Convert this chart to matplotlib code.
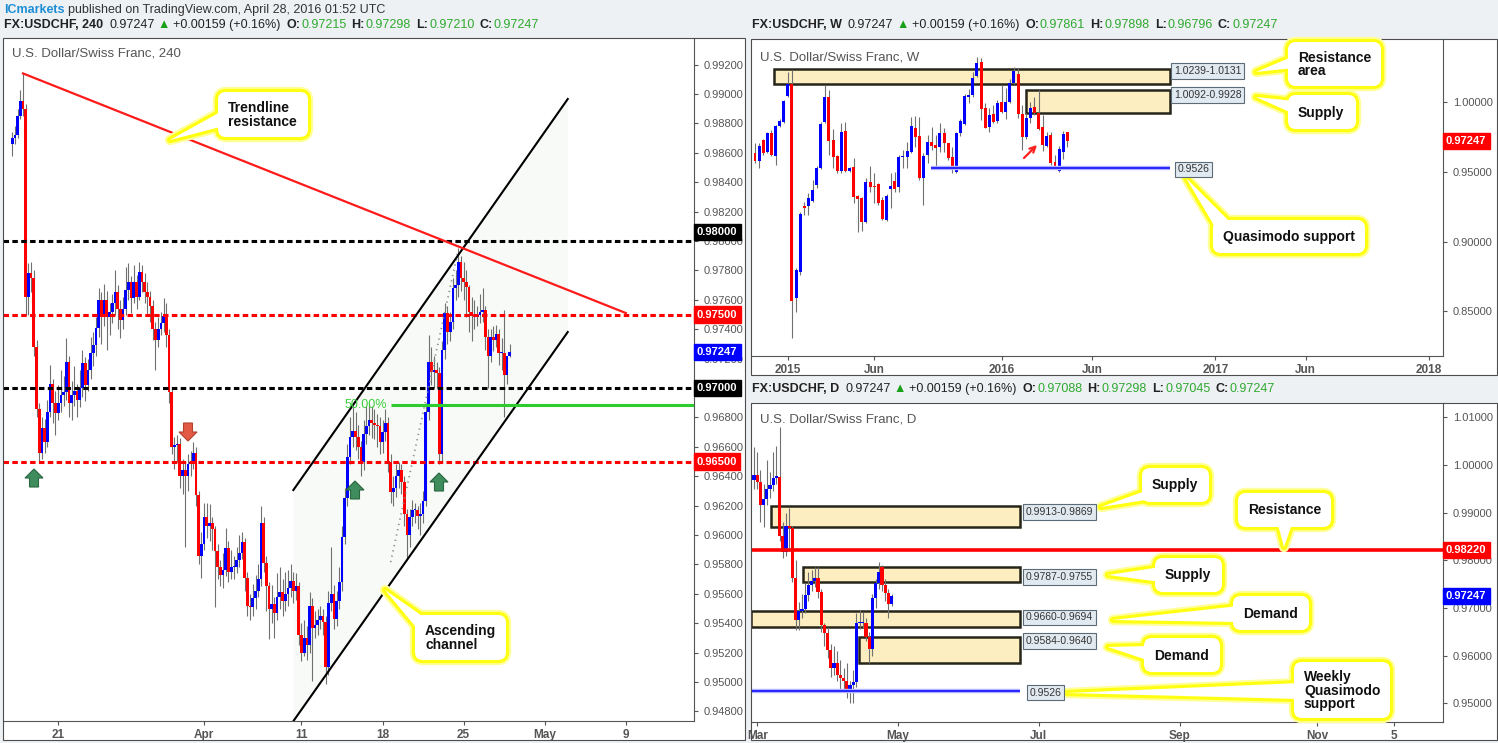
import numpy as np
import matplotlib
matplotlib.use('Agg')
import matplotlib.pyplot as plt
from matplotlib.patches import Rectangle, FancyBboxPatch, Polygon

plt.rcParams['font.family'] = ['Liberation Sans', 'DejaVu Sans']

W, H = 1498, 743

# ---------------- 4h candles (USDCHF, from Mar 17 2016) ----------------
h4_first_open = 0.9866
h4_close = [
    0.9870, 0.9872, 0.9885, 0.9895, 0.9890, 0.9762, 0.9778, 0.9775, 0.9728, 0.9686,
    0.9656, 0.9673, 0.9663, 0.9684, 0.9703, 0.9690, 0.9683, 0.9690, 0.9695, 0.9697,
    0.9718, 0.9690, 0.9695, 0.9698, 0.9692, 0.9700, 0.9717, 0.9702, 0.9712, 0.9724,
    0.9729, 0.9741, 0.9760, 0.9748, 0.9760, 0.9748, 0.9752, 0.9758, 0.9765, 0.9754,
    0.9746, 0.9754, 0.9767, 0.9772, 0.9761, 0.9772, 0.9762, 0.9779, 0.9772, 0.9765,
    0.9762, 0.9756, 0.9740, 0.9733, 0.9740, 0.9744, 0.9749, 0.9736, 0.9697, 0.9660,
    0.9661, 0.9662, 0.9640, 0.9644, 0.9640, 0.9648, 0.9650, 0.9656, 0.9627, 0.9586,
    0.9594, 0.9612, 0.9606, 0.9608, 0.9604, 0.9589, 0.9578, 0.9573, 0.9576, 0.9591,
    0.9575, 0.9578, 0.9578, 0.9583, 0.9588, 0.9595, 0.9571, 0.9552, 0.9551, 0.9557,
    0.9562, 0.9570, 0.9608, 0.9581, 0.9565, 0.9550, 0.9553, 0.9547, 0.9558, 0.9561,
    0.9555, 0.9560, 0.9564, 0.9569, 0.9562, 0.9565, 0.9532, 0.9520, 0.9530, 0.9525,
    0.9552, 0.9537, 0.9539, 0.9542, 0.9545, 0.9541, 0.9510, 0.9554, 0.9560, 0.9543,
    0.9555, 0.9568, 0.9599, 0.9625, 0.9653, 0.9667, 0.9671, 0.9667, 0.9660, 0.9650,
    0.9669, 0.9674, 0.9678, 0.9676, 0.9675, 0.9674, 0.9663, 0.9670, 0.9676, 0.9650,
    0.9629, 0.9632, 0.9640, 0.9644, 0.9636, 0.9614, 0.9600, 0.9612, 0.9617, 0.9617,
    0.9613, 0.9614, 0.9623, 0.9684, 0.9718, 0.9711, 0.9712, 0.9710, 0.9655, 0.9726,
    0.9751, 0.9738, 0.9745, 0.9768, 0.9770, 0.9786, 0.9775, 0.9772, 0.9769, 0.9752,
    0.9749, 0.9748, 0.9750, 0.9752, 0.9753, 0.9735, 0.9722, 0.9735, 0.9733, 0.9737,
    0.9724, 0.9724, 0.9709, 0.97215, 0.97247,
]
h4_high = [
    0.9874, 0.9878, 0.9890, 0.9903, 0.9914, 0.9893, 0.9785, 0.9786, 0.9780, 0.9733,
    0.9690, 0.9680, 0.9679, 0.9692, 0.9716, 0.9706, 0.9698, 0.9702, 0.9712, 0.9708,
    0.9734, 0.9722, 0.9705, 0.9715, 0.9703, 0.9712, 0.9726, 0.9721, 0.9720, 0.9735,
    0.9738, 0.9748, 0.9768, 0.9765, 0.9771, 0.9766, 0.9758, 0.9764, 0.9780, 0.9770,
    0.9760, 0.9762, 0.9782, 0.9785, 0.9776, 0.9784, 0.9777, 0.9786, 0.9784, 0.9778,
    0.9772, 0.9766, 0.9760, 0.9745, 0.9748, 0.9752, 0.9761, 0.9758, 0.9740, 0.9700,
    0.9667, 0.9668, 0.9666, 0.9652, 0.9650, 0.9655, 0.9657, 0.9663, 0.9660, 0.9630,
    0.9602, 0.9622, 0.9622, 0.9621, 0.9612, 0.9606, 0.9594, 0.9583, 0.9588, 0.9605,
    0.9596, 0.9590, 0.9586, 0.9592, 0.9600, 0.9602, 0.9598, 0.9575, 0.9560, 0.9567,
    0.9573, 0.9580, 0.9620, 0.9612, 0.9586, 0.9568, 0.9566, 0.9558, 0.9574, 0.9578,
    0.9570, 0.9575, 0.9576, 0.9580, 0.9575, 0.9574, 0.9568, 0.9540, 0.9542, 0.9538,
    0.9561, 0.9557, 0.9548, 0.9550, 0.9552, 0.9550, 0.9545, 0.9562, 0.9592, 0.9566,
    0.9562, 0.9578, 0.9606, 0.9632, 0.9662, 0.9680, 0.9688, 0.9684, 0.9675, 0.9664,
    0.9678, 0.9688, 0.9690, 0.9688, 0.9686, 0.9682, 0.9680, 0.9678, 0.9686, 0.9680,
    0.9655, 0.9640, 0.9648, 0.9650, 0.9648, 0.9640, 0.9618, 0.9618, 0.9624, 0.9622,
    0.9620, 0.9622, 0.9630, 0.9690, 0.9736, 0.9728, 0.9722, 0.9718, 0.9714, 0.9732,
    0.9758, 0.9756, 0.9752, 0.9775, 0.9780, 0.9795, 0.9790, 0.9786, 0.9780, 0.9770,
    0.9762, 0.9760, 0.9756, 0.9764, 0.9768, 0.9756, 0.9740, 0.9740, 0.9742, 0.9743,
    0.9740, 0.9734, 0.9753, 0.9722, 0.97298,
]
h4_low = [
    0.9858, 0.9866, 0.9870, 0.9883, 0.9885, 0.9750, 0.9750, 0.9765, 0.9722, 0.9680,
    0.9650, 0.9652, 0.9656, 0.9660, 0.9680, 0.9676, 0.9668, 0.9678, 0.9684, 0.9688,
    0.9692, 0.9680, 0.9678, 0.9688, 0.9680, 0.9687, 0.9694, 0.9691, 0.9698, 0.9706,
    0.9715, 0.9722, 0.9735, 0.9730, 0.9742, 0.9726, 0.9736, 0.9744, 0.9750, 0.9740,
    0.9734, 0.9740, 0.9750, 0.9760, 0.9751, 0.9758, 0.9754, 0.9760, 0.9765, 0.9758,
    0.9750, 0.9745, 0.9733, 0.9712, 0.9728, 0.9736, 0.9738, 0.9728, 0.9690, 0.9655,
    0.9645, 0.9650, 0.9632, 0.9628, 0.9592, 0.9630, 0.9640, 0.9645, 0.9620, 0.9580,
    0.9571, 0.9590, 0.9598, 0.9596, 0.9590, 0.9551, 0.9570, 0.9565, 0.9564, 0.9572,
    0.9568, 0.9570, 0.9570, 0.9574, 0.9578, 0.9584, 0.9562, 0.9545, 0.9542, 0.9545,
    0.9550, 0.9558, 0.9565, 0.9575, 0.9548, 0.9529, 0.9540, 0.9530, 0.9542, 0.9550,
    0.9545, 0.9548, 0.9552, 0.9558, 0.9554, 0.9556, 0.9525, 0.9514, 0.9518, 0.9515,
    0.9520, 0.9501, 0.9530, 0.9532, 0.9536, 0.9532, 0.9499, 0.9505, 0.9548, 0.9536,
    0.9538, 0.9550, 0.9562, 0.9594, 0.9620, 0.9648, 0.9660, 0.9658, 0.9652, 0.9640,
    0.9644, 0.9662, 0.9668, 0.9666, 0.9665, 0.9660, 0.9655, 0.9656, 0.9664, 0.9643,
    0.9622, 0.9620, 0.9626, 0.9632, 0.9628, 0.9606, 0.9584, 0.9592, 0.9606, 0.9608,
    0.9604, 0.9600, 0.9608, 0.9620, 0.9678, 0.9702, 0.9700, 0.9700, 0.9648, 0.9650,
    0.9720, 0.9730, 0.9732, 0.9740, 0.9760, 0.9762, 0.9766, 0.9760, 0.9748, 0.9738,
    0.9732, 0.9740, 0.9742, 0.9744, 0.9745, 0.9726, 0.9700, 0.9718, 0.9725, 0.9728,
    0.9716, 0.9712, 0.9680, 0.9703, 0.9721,
]
h4_first_bar = -17                      # bars relative to Mar 21 00:00 (6 bars a day)
h4_tick_labels = ['21', 'Apr', '11', '18', '25', 'May', '9']
h4_tick_days = [0, 9, 15, 20, 25, 30, 35]
h4_levels_black = [0.9800, 0.9700]
h4_levels_red = [0.9750, 0.9650]
h4_fib_low, h4_fib_high = 0.95816, 0.97939
h4_fib_mid = 0.96884

# ---------------- weekly candles (from week of Nov 10 2014) ----------------
w_open = [
    0.9639, 0.9582, 0.9731, 0.9647, 0.9779, 0.9615, 0.9831, 0.9862, 1.0047, 1.0133,
    0.8591, 0.8783, 0.9258, 0.9258, 0.9292, 0.9407, 0.9532, 0.9862, 1.0042, 0.9731,
    0.9615, 0.9508, 0.9798, 0.9505, 0.9536, 0.9328, 0.9316, 0.9143, 0.9428, 0.9402,
    0.9414, 0.9299, 0.9155, 0.9376, 0.9436, 0.9395, 0.9611, 0.9611, 0.9647, 0.9814,
    0.9759, 0.9455, 0.9623, 0.9714, 0.9695, 0.9683, 0.9779, 0.9707, 0.9611, 0.9503,
    0.9783, 0.9846, 1.0042, 1.0054, 1.0191, 1.0294, 0.9963, 0.9822, 0.9918, 0.9867,
    1.0004, 0.9934, 1.0006, 1.0138, 1.0205, 0.9918, 0.9755, 0.9891, 0.9970, 0.9922,
    0.9822, 0.9687, 0.9767, 0.9575, 0.9508, 0.9647, 0.97861,
]
w_close = [
    0.9582, 0.9687, 0.9639, 0.9779, 0.9623, 0.9831, 0.9870, 1.0011, 1.0133, 0.8575,
    0.8795, 0.9198, 0.9244, 0.9311, 0.9371, 0.9532, 0.9846, 1.0042, 0.9726, 0.9606,
    0.9508, 0.9788, 0.9508, 0.9529, 0.9323, 0.9309, 0.9143, 0.9428, 0.9395, 0.9390,
    0.9275, 0.9162, 0.9328, 0.9402, 0.9376, 0.9611, 0.9618, 0.9651, 0.9831, 0.9755,
    0.9455, 0.9615, 0.9714, 0.9687, 0.9671, 0.9779, 0.9707, 0.9603, 0.9527, 0.9779,
    0.9867, 1.0047, 1.0054, 1.0174, 1.0287, 0.9951, 0.9819, 0.9910, 0.9862, 0.9999,
    0.9934, 1.0006, 1.0143, 1.0227, 0.9918, 0.9755, 0.9891, 0.9958, 0.9922, 0.9807,
    0.9695, 0.9759, 0.9567, 0.9522, 0.9666, 0.9774, 0.97247,
]
w_high = [
    0.9707, 0.9707, 0.9740, 0.9790, 0.9800, 0.9840, 0.9880, 1.0020, 1.0222, 1.0234,
    0.8810, 0.9210, 0.9282, 0.9347, 0.9443, 0.9544, 0.9862, 1.0126, 1.0090, 0.9807,
    0.9620, 0.9850, 0.9862, 0.9536, 0.9599, 0.9335, 0.9320, 0.9455, 0.9544, 0.9496,
    0.9420, 0.9320, 0.9340, 0.9496, 0.9503, 0.9620, 0.9659, 0.9719, 0.9898, 0.9903,
    0.9898, 0.9635, 0.9767, 0.9822, 0.9767, 0.9850, 0.9814, 0.9710, 0.9683, 0.9788,
    0.9880, 1.0060, 1.0095, 1.0222, 1.0330, 1.0318, 0.9994, 0.9958, 0.9982, 1.0018,
    1.0126, 1.0102, 1.0167, 1.0258, 1.0246, 0.9982, 0.9922, 1.0006, 1.0037, 1.0090,
    0.9910, 0.9788, 0.9791, 0.9623, 0.9687, 0.9798, 0.97898,
]
w_low = [
    0.9563, 0.9527, 0.9620, 0.9640, 0.9615, 0.9551, 0.9825, 0.9855, 1.0040, 0.8304,
    0.8496, 0.8759, 0.9191, 0.9191, 0.9287, 0.9383, 0.9525, 0.9855, 0.9623, 0.9527,
    0.9491, 0.9491, 0.9503, 0.9500, 0.9275, 0.9071, 0.9078, 0.9130, 0.9359, 0.9275,
    0.9263, 0.9155, 0.9150, 0.9239, 0.9359, 0.9359, 0.9527, 0.9527, 0.9640, 0.9683,
    0.9443, 0.9263, 0.9563, 0.9659, 0.9527, 0.9647, 0.9647, 0.9587, 0.9491, 0.9496,
    0.9759, 0.9840, 0.9994, 1.0040, 1.0180, 0.9874, 0.9814, 0.9791, 0.9850, 0.9855,
    0.9922, 0.9879, 0.9994, 1.0130, 0.9886, 0.9659, 0.9740, 0.9850, 0.9910, 0.9800,
    0.9654, 0.9678, 0.9551, 0.9520, 0.9503, 0.9591, 0.96796,
]
w_tick_labels = ['2015', 'Jun', '2016', 'Jun', '2017', 'Jun', '2018']
w_tick_weeks = [8, 29, 60, 82, 112, 134, 164]
w_zones = [(1.0131, 1.0239), (0.9928, 1.0092)]
w_qm_support = 0.9526

# ---------------- daily candles (from Feb 29 2016) ----------------
d_open = [
    0.9968, 0.9978, 0.9964, 0.9917, 0.9929, 0.9950, 0.9957, 0.9973, 0.9975, 0.9850,
    0.9818, 0.9871, 0.9867, 0.9762, 0.9675, 0.9694, 0.9698, 0.9727, 0.9748, 0.9757,
    0.9762, 0.9734, 0.9664, 0.9647, 0.9612, 0.9574, 0.9585, 0.9560, 0.9554, 0.9546,
    0.9524, 0.9539, 0.9545, 0.9668, 0.9668, 0.9668, 0.9640, 0.9615, 0.9720, 0.9752,
    0.9786, 0.9748, 0.9731, 0.97088,
]
d_close = [
    0.9979, 0.9964, 0.9917, 0.9929, 0.9950, 0.9957, 0.9973, 0.9975, 0.9850, 0.9818,
    0.9871, 0.9867, 0.9762, 0.9675, 0.9694, 0.9698, 0.9727, 0.9748, 0.9757, 0.9762,
    0.9734, 0.9664, 0.9647, 0.9612, 0.9574, 0.9585, 0.9560, 0.9554, 0.9546, 0.9524,
    0.9539, 0.9545, 0.9668, 0.9670, 0.9670, 0.9640, 0.9615, 0.9720, 0.9752, 0.9776,
    0.9748, 0.9731, 0.9709, 0.97247,
]
d_high = [
    1.0038, 1.0028, 0.9990, 0.9960, 1.0010, 0.9985, 1.0028, 1.0040, 1.0080, 0.9880,
    0.9900, 0.9909, 0.9872, 0.9800, 0.9712, 0.9730, 0.9752, 0.9776, 0.9780, 0.9787,
    0.9787, 0.9740, 0.9668, 0.9660, 0.9625, 0.9620, 0.9610, 0.9590, 0.9575, 0.9585,
    0.9548, 0.9570, 0.9690, 0.9695, 0.9692, 0.9680, 0.9650, 0.9730, 0.9760, 0.9796,
    0.9790, 0.9760, 0.9740, 0.97298,
]
d_low = [
    0.9950, 0.9950, 0.9881, 0.9870, 0.9915, 0.9930, 0.9945, 0.9960, 0.9840, 0.9804,
    0.9808, 0.9820, 0.9755, 0.9654, 0.9654, 0.9680, 0.9690, 0.9715, 0.9735, 0.9745,
    0.9720, 0.9650, 0.9620, 0.9595, 0.9555, 0.9560, 0.9546, 0.9530, 0.9525, 0.9511,
    0.9500, 0.9500, 0.9535, 0.9655, 0.9658, 0.9630, 0.9584, 0.9600, 0.9700, 0.9740,
    0.9735, 0.9715, 0.9680, 0.97045,
]
d_tick_labels = ['Mar', 'May', 'Jul', 'Sep', 'Nov', '5']
d_tick_days = [1, 45, 89, 133, 176, 200]
d_zones = [(0.9869, 0.9913), (0.9755, 0.9787), (0.9660, 0.9694), (0.9584, 0.9640)]
d_resistance = 0.9822
d_qm_support = 0.9526
last_price = 0.97247

# ---------------- figure ----------------
fig = plt.figure(figsize=(W / 100, H / 100), dpi=100, facecolor='#eef1f4')


def px_axes(x0, y0, x1, y1, z):
    return fig.add_axes([x0 / W, 1 - y1 / H, (x1 - x0) / W, (y1 - y0) / H], zorder=z)


bg = px_axes(0, 0, W, H, 0)
fg = px_axes(0, 0, W, H, 5)
for a in (bg, fg):
    a.set_xlim(0, W)
    a.set_ylim(H, 0)
    a.axis('off')

panels = [(3, 38, 745, 740), (751, 39, 1497, 375), (751, 403, 1497, 740)]
for x0, y0, x1, y1 in panels:
    bg.add_patch(Rectangle((x0, y0), x1 - x0, y1 - y0, fc='white', ec='none'))
    fg.add_patch(Rectangle((x0, y0), x1 - x0, y1 - y0, fc='none', ec='#4d4d4d', lw=0.8))

ax4 = px_axes(3, 38, 694, 721, 2)
axw = px_axes(751, 39, 1443, 356, 2)
axd = px_axes(751, 403, 1443, 722, 2)


def setup(ax, xlim, ylim, yticks, xticks, xlabels, hide=()):
    ax.set_xlim(*xlim)
    ax.set_ylim(*ylim)
    ax.set_facecolor('white')
    for s in ('left', 'top'):
        ax.spines[s].set_visible(False)
    for s in ('right', 'bottom'):
        ax.spines[s].set_color('#555555')
        ax.spines[s].set_linewidth(0.8)
    ax.yaxis.tick_right()
    ax.set_yticks(yticks)
    # labels sitting right under a coloured price tag are hidden, as on the chart
    ax.set_yticklabels(['' if any(abs(v - hv) < 1e-6 for hv in hide) else f'{v:.5f}' for v in yticks])
    ax.set_xticks(xticks)
    ax.set_xticklabels(xlabels, fontweight='bold')
    ax.tick_params(axis='y', length=3, pad=4, labelsize=8, labelcolor='#555555', color='#555555')
    ax.tick_params(axis='x', length=3, pad=3, labelsize=8.5, labelcolor='#555555', color='#555555')


def candles(ax, o, h, l, c, first, width, min_h):
    o, h, l, c = map(np.asarray, (o, h, l, c))
    idx = first + np.arange(len(c))
    cols = np.where(c >= o, '#0000ff', '#ff0000')
    ax.vlines(idx, l, h, color='#707070', lw=0.8, zorder=2)
    ax.bar(idx, np.maximum(np.abs(c - o), min_h), width, np.minimum(o, c),
           color=cols, lw=0, zorder=2.1)
    return idx


def price_tag(ax, price, text, fc):
    wpx = ax.get_position().width * W
    ax.text(1.0 + 3.0 / wpx, price, text, transform=ax.get_yaxis_transform(),
            ha='left', va='center', fontsize=8, fontweight='bold', color='white',
            bbox=dict(boxstyle='square,pad=0.28', fc=fc, ec=fc), clip_on=False, zorder=6)


# ---- 4h panel ----
setup(ax4, (-20.4, 235.2), (0.94735, 0.99381), np.arange(0.948, 0.9925, 0.002),
      [d * 6 for d in h4_tick_days], h4_tick_labels, hide=(0.970,))
h4_open = [h4_first_open] + h4_close[:-1]
idx4 = candles(ax4, h4_open, h4_high, h4_low, h4_close, h4_first_bar, 1.0, 0.00006)

for lv in h4_levels_black:
    ax4.axhline(lv, color='black', lw=2.2, ls=(0, (1.8, 1.1)), zorder=3)
for lv in h4_levels_red:
    ax4.axhline(lv, color='#ff0000', lw=2.2, ls=(0, (1.8, 1.1)), zorder=3)

# trendline resistance from the spike high
peak = int(np.argmax(h4_high))
ax4.plot([idx4[peak], 210], [h4_high[peak], 0.9751], color='#ff1a1a', lw=1.6, zorder=3.2)

# ascending channel
ch_x0, ch_x1 = 87, 188.5
up0, up1 = 0.96306, 0.98966
lo0, lo1 = 0.94734, 0.97381
ax4.fill([ch_x0, ch_x1, ch_x1, ch_x0], [up0, up1, lo1, lo0], color='#f8faf7', lw=0, zorder=1)
ax4.plot([ch_x0, ch_x1], [up0, up1], color='black', lw=1.5, zorder=3.1)
ax4.plot([ch_x0, ch_x1], [lo0, lo1], color='black', lw=1.5, zorder=3.1)

# fib anchors + 50% level
ax4.plot([123, 148], [h4_fib_low, h4_fib_high], color='#8f8f8f', lw=1.3, ls=(0, (0.7, 2.3)), zorder=3)
ax4.hlines(h4_fib_mid, 123, 235.2, color='#2ecc2e', lw=2.2, zorder=3.3)
ax4.text(121.5, h4_fib_mid, '50.00%', color='#3ccf3c', fontsize=9, ha='right', va='center', zorder=3.3)

price_tag(ax4, 0.98061, '0.98000', 'black')
price_tag(ax4, 0.97500, '0.97500', '#ff0000')
price_tag(ax4, last_price, '0.97247', '#0000ff')
price_tag(ax4, 0.97000, '0.97000', 'black')
price_tag(ax4, 0.96500, '0.96500', '#ff0000')

# ---- weekly panel ----
setup(axw, (-0.97, 167.4), (0.81763, 1.04568), [0.85, 0.90, 0.95, 1.00],
      w_tick_weeks, w_tick_labels)
for (lo, hi), x0 in zip(w_zones, [4.6, 65.9]):
    axw.add_patch(Rectangle((x0, lo), 101 - x0, hi - lo, fc='#fdeec1', ec='#262519', lw=1.8, zorder=1))
candles(axw, w_open, w_high, w_low, w_close, 0, 0.72, 0.0006)
axw.hlines(w_qm_support, 42.8, 101, color='#b9b9ff', lw=3.2, zorder=2.9)
axw.hlines(w_qm_support, 42.8, 101, color='#2828ff', lw=1.5, zorder=3)
price_tag(axw, last_price, '0.97247', '#ff0000')

# ---- daily panel ----
setup(axd, (-0.94, 215.3), (0.9461, 1.01298), np.arange(0.95, 1.0105, 0.01),
      d_tick_days, d_tick_labels)
for (lo, hi), x0 in zip(d_zones, [5.3, 15.3, -1.0, 32.8]):
    axd.add_patch(Rectangle((x0, lo), 83.2 - x0, hi - lo, fc='#fdeec1', ec='#262519', lw=1.8, zorder=1))
candles(axd, d_open, d_high, d_low, d_close, 0, 0.95, 0.0003)
axd.axhline(d_resistance, color='#ff0000', lw=2.6, zorder=3)
axd.hlines(d_qm_support, -0.6, 83.2, color='#b9b9ff', lw=3.2, zorder=2.9)
axd.hlines(d_qm_support, -0.6, 83.2, color='#2828ff', lw=1.5, zorder=3)
price_tag(axd, d_resistance, '0.98220', '#ff0000')
price_tag(axd, last_price, '0.97247', '#0000ff')

# ---------------- text overlays (pixel space) ----------------
renderer = fig.canvas.get_renderer()


def rich(x, y, parts, size=9):
    for text, color, weight, gap in parts:
        t = fg.text(x, y, text, color=color, fontweight=weight, fontsize=size, ha='left', va='center')
        x += t.get_window_extent(renderer).width + gap


GRN = '#2fa82f'
DK = '#222222'


def header(x, y, tf, o, h, l, c):
    rich(x, y, [(f'FX:USDCHF, {tf}', DK, 'bold', 6), ('0.97247', DK, 'normal', 3),
                ('▲', '#18a018', 'normal', 3), ('+0.00159 (+0.16%)', DK, 'normal', 6),
                ('O:', DK, 'bold', 1), (o, GRN, 'normal', 5), ('H:', DK, 'bold', 1),
                (h, GRN, 'normal', 5), ('L:', DK, 'bold', 1), (l, GRN, 'normal', 5),
                ('C:', DK, 'bold', 1), (c, GRN, 'normal', 0)])


rich(4, 10, [('ICmarkets', '#1e8fd6', 'bold', 4),
             ('published on TradingView.com, April 28, 2016 01:52 UTC', '#333333', 'normal', 0)])
header(4, 25, '240', '0.97215', '0.97298', '0.97210', '0.97247')
header(752, 25, 'W', '0.97861', '0.97898', '0.96796', '0.97247')
header(752, 389, 'D', '0.97088', '0.97298', '0.97045', '0.97247')

for x, y, s in [(12, 54, 'U.S. Dollar/Swiss Franc, 240'), (760, 57, 'U.S. Dollar/Swiss Franc, W'),
                (760, 420, 'U.S. Dollar/Swiss Franc, D')]:
    fg.text(x, y, s, color='#555555', fontsize=9.5, ha='left', va='center')


def callout(box, tip, base, text):
    x0, y0, x1, y1 = box

    def rbox(**kw):
        return FancyBboxPatch((x0, y0), x1 - x0, y1 - y0,
                              boxstyle='round,pad=0,rounding_size=8', **kw)
    wedge = [base[0], tip, base[1]]
    for lw, col in [(7.5, '#ffff9e'), (4.6, '#ffff14')]:
        fg.add_patch(rbox(fc='none', ec=col, lw=lw))
        fg.add_patch(Polygon(wedge, closed=True, fc='none', ec=col, lw=lw, joinstyle='round'))
    fg.add_patch(rbox(fc='white', ec='none'))
    fg.add_patch(Polygon(wedge, closed=True, fc='white', ec='none'))
    fg.text(x0 + 10, (y0 + y1) / 2 + 0.5, text, ha='left', va='center', fontsize=10,
            fontweight='bold', color='#111111', linespacing=0.98)


callout((218, 92, 308, 137), (170, 140), [(224, 110), (224, 126)], 'Trendline\nresistance')
callout((415, 615, 506, 660), (385, 590), [(428, 620), (420, 632)], 'Ascending\nchannel')
callout((1288, 42, 1381, 86), (1256, 72), [(1294, 56), (1294, 68)], 'Resistance\narea')
callout((1288, 95, 1356, 129), (1256, 97), [(1294, 101), (1294, 114)], 'Supply')
callout((1213, 220, 1365, 253), (1186, 178), [(1218, 232), (1232, 224)], 'Quasimodo support')
callout((1142, 468, 1209, 502), (1101, 507), [(1148, 490), (1152, 499)], 'Supply')
callout((1238, 493, 1331, 527), (1284, 547), [(1277, 521), (1293, 521)], 'Resistance')
callout((1155, 558, 1222, 592), (1108, 575), [(1161, 567), (1161, 582)], 'Supply')
callout((1233, 596, 1309, 630), (1113, 620), [(1239, 606), (1239, 622)], 'Demand')
callout((1144, 638, 1220, 672), (1108, 647), [(1150, 646), (1150, 661)], 'Demand')
callout((1294, 662, 1390, 718), (1067, 693), [(1300, 683), (1300, 699)], 'Weekly\nQuasimodo\nsupport')

# zone value labels
for x, y, s in [(1174, 71, '1.0239-1.0131'), (1174, 95, '1.0092-0.9928'), (1178, 169.5, '0.9526'),
                (1026, 512, '0.9913-0.9869'), (1026, 577, '0.9787-0.9755'),
                (1026, 617.5, '0.9660-0.9694'), (1026, 641, '0.9584-0.9640'), (1030, 692.5, '0.9526')]:
    fg.text(x, y, s, ha='left', va='center', fontsize=7.5, color='#333333',
            bbox=dict(boxstyle='square,pad=0.25', fc='#e2eaf1', ec='#5c6b78', lw=0.8))

# block arrows on the 4h chart
def block_arrow(cx, cy, up, fc, ec):
    s = -1 if up else 1
    pts = [(cx - 9, cy), (cx, cy + s * 9), (cx + 9, cy), (cx + 4.5, cy),
           (cx + 4.5, cy - s * 9), (cx - 4.5, cy - s * 9), (cx - 4.5, cy)]
    fg.add_patch(Polygon(pts, closed=True, fc=fc, ec=ec, lw=0.8))


for cx, cy in [(34, 478), (355, 490), (439, 482)]:
    block_arrow(cx, cy, True, '#3f8d5c', '#2a6642')
block_arrow(188, 432, False, '#e25a43', '#b3412e')

# small red arrow on weekly chart
fg.annotate('', xy=(1039, 143), xytext=(1022, 160),
            arrowprops=dict(arrowstyle='->', color='#ff2020', lw=1.6))

fig.savefig('out.png', dpi=100, facecolor=fig.get_facecolor())
